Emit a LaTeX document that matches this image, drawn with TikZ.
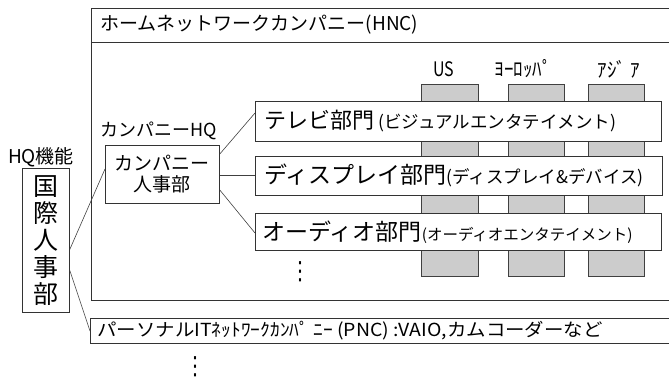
\documentclass[tikz,border=0pt]{standalone}
\usepackage{fontspec}
\setmainfont{Noto Sans CJK JP}
\newfontfamily\jp{Noto Sans CJK JP}
\newfontfamily\dv{DejaVu Sans}
\begin{document}
\begin{tikzpicture}[x=1pt,y=-1pt,
  line width=0.8pt,
  box/.style={draw=black!80, fill=white, inner sep=0pt},
  bar/.style={draw=black!75, fill=black!20},
  lbl/.style={inner sep=0pt, font=\jp},
  vdots/.style={inner sep=0pt, font=\dv\fontsize{20}{20}\selectfont, yscale=1.25},
  link/.style={draw=black!75, line width=0.6pt}]
\useasboundingbox (0,0) rectangle (669,380);
% outer HNC frame
\draw[draw=black!80] (680,8) -- (91,8) -- (91,300) -- (680,300);
\draw[draw=black!80] (91,42) -- (680,42);
\node[lbl, anchor=west, font=\jp\fontsize{19}{19}\selectfont] (hnc) at (100,25) {ホームネットワークカンパニー(HNC)};
% region bars
\path[bar] (421,84) rectangle (478,276);
\path[bar] (508,84) rectangle (564,276);
\path[bar] (588,84) rectangle (644,276);
\node[lbl, font=\jp\fontsize{20}{20}\selectfont, xscale=0.8] (us) at (444,69) {US};
\node[lbl, font=\jp\fontsize{20}{20}\selectfont, xscale=0.95] (eu) at (523,69) {ﾖｰﾛｯﾊﾟ};
\node[lbl, font=\jp\fontsize{20}{20}\selectfont, xscale=0.95] (as) at (619,69) {ｱｼﾞ ｱ};
% division boxes
\node[box, minimum width=406, minimum height=40, anchor=north west] (tv) at (255,101) {};
\node[lbl, anchor=west] at ([xshift=9]tv.west) {\fontsize{22}{22}\selectfont テレビ部門\hspace{4pt}\fontsize{17.5}{17.5}\selectfont (ビジュアルエンタテイメント)};
\node[box, minimum width=407, minimum height=39, anchor=north west] (disp) at (255,156) {};
\node[lbl, anchor=west] at ([xshift=9]disp.west) {\fontsize{23}{23}\selectfont ディスプレイ部門\fontsize{17.5}{17.5}\selectfont (ディスプレイ\&デバイス)};
\node[box, minimum width=406, minimum height=37, anchor=north west] (aud) at (255,213) {};
\node[lbl, anchor=west] at ([xshift=7]aud.west) {\fontsize{23}{23}\selectfont オーディオ部門\fontsize{15.5}{15.5}\selectfont (オーディオエンタテイメント)};
\node[vdots] (dots1) at (300,272) {⋮};
% company HQ
\node[lbl, anchor=west, font=\jp\fontsize{18}{18}\selectfont] (chq) at (100,131) {カンパニーHQ};
\node[box, minimum width=114, minimum height=58, anchor=north west, align=center,
  font=\jp\fontsize{19}{21}\selectfont] (chr) at (105,145) {カンパニー\\人事部};
% HQ function
\node[lbl, font=\jp\fontsize{19}{19}\selectfont] (hqf) at (41,157) {HQ機能};
\node[box, minimum width=47, minimum height=144, anchor=north west, align=center,
  font=\jp\fontsize{25}{27}\selectfont] (kj) at (22,168) {国\\際\\人\\事\\部};
% PNC
\draw[draw=black!80] (680,318) -- (90,318) -- (90,343) -- (680,343);
\coordinate (pncl) at (90,331);
\node[lbl, anchor=west, font=\jp\fontsize{18}{18}\selectfont, xscale=1.08] (pnc) at (97,331) {パーソナルITﾈｯﾄﾜｰｸｶﾝﾊﾟ ﾆｰ (PNC) :VAIO,カムコーダーなど};
\node[vdots] (dots2) at (195,367) {⋮};
% connectors
\draw[link] ([yshift=-9]kj.east) -- (chr.south west |- 0,169);
\draw[link] ([yshift=-30]kj.east) -- (pncl);
\draw[link] ([yshift=-9]chr.north east) -- (tv.west |- 0,113);
\draw[link] ([yshift=-30]chr.north east) -- (disp.west |- 0,175);
\draw[link] ([yshift=-45]chr.north east) -- (aud.west |- 0,233);
\end{tikzpicture}
\end{document}
